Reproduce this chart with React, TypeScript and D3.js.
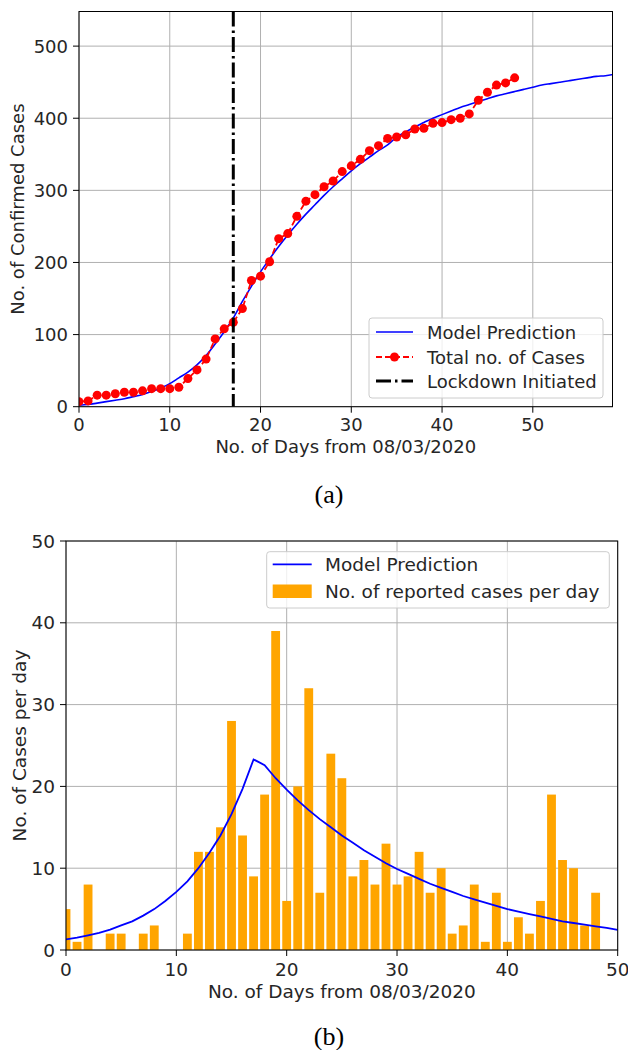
import React from "react";
import * as d3 from "d3";

// ---------- data ----------
const days = d3.range(0, 49);
const totalCases = [7, 8, 16, 16, 18, 20, 20, 22, 25, 25, 25, 27, 39, 51, 66, 94, 108, 117, 136, 175, 181, 201, 233, 240, 264, 285, 294, 305, 313, 326, 334, 343, 355, 362, 372, 374, 377, 385, 386, 393, 394, 398, 400, 406, 425, 436, 446, 449, 456];
const modelDays = d3.range(0, 60);
const modelCumulative = [2, 3, 5, 7, 9, 11, 14, 17, 21, 26, 32, 40, 48, 58, 71, 87, 104, 123, 146, 167, 187, 205, 222, 238, 253, 267, 280, 293, 305, 316, 327, 337, 346, 355, 363, 374, 381, 388, 394, 400, 405, 410, 415, 419, 423, 427, 431, 434, 437, 440, 443, 446, 448, 450, 452, 454, 456, 458, 459, 461];
const lockdownDay = 17;
const dailyCases = [5, 1, 8, 0, 2, 2, 0, 2, 3, 0, 0, 2, 12, 12, 15, 28, 14, 9, 19, 39, 6, 20, 32, 7, 24, 21, 9, 11, 8, 13, 8, 9, 12, 7, 10, 2, 3, 8, 1, 7, 1, 4, 2, 6, 19, 11, 10, 3, 7];
const dailyModelDays = d3.range(0, 51);
const dailyModel = [1.3, 1.5, 1.8, 2.1, 2.5, 3.0, 3.5, 4.2, 5.0, 6.0, 7.1, 8.4, 10.0, 11.9, 14.0, 16.6, 19.7, 23.3, 22.6, 21.0, 19.6, 18.3, 17.1, 16.0, 15.0, 14.0, 13.1, 12.2, 11.4, 10.6, 9.9, 9.3, 8.7, 8.1, 7.6, 7.1, 6.6, 6.2, 5.8, 5.4, 5.0, 4.7, 4.4, 4.1, 3.8, 3.5, 3.3, 3.1, 2.9, 2.7, 2.45];
const topXTicks = [0, 10, 20, 30, 40, 50];
const topYTicks = [0, 100, 200, 300, 400, 500];
const botXTicks = [0, 10, 20, 30, 40, 50];
const botYTicks = [0, 10, 20, 30, 40, 50];

const FONT = "DejaVu Sans, sans-serif";
const FS = 18;
const FSB = 18.5;
const GRID = "#b0b0b0";
const TXT = "#262626";

export default function App() {
  // top chart
  const tL = 79, tR = 612.5, tT = 11.5, tB = 406.7;
  const xT = d3.scaleLinear().domain([0, 58.78]).range([tL, tR]);
  const yT = d3.scaleLinear().domain([0, 548]).range([tB, tT]);
  const modelLine = d3.line<number>().x((d, i) => xT(modelDays[i])).y((d) => yT(d)).curve(d3.curveMonotoneX);
  const casesLine = d3.line<number>().x((d, i) => xT(days[i])).y((d) => yT(d));

  // bottom chart
  const bL = 66, bR = 617.7, bT = 541, bB = 950;
  const xB = d3.scaleLinear().domain([0, 50]).range([bL, bR]);
  const yB = d3.scaleLinear().domain([0, 50]).range([bB, bT]);
  const dailyLine = d3.line<number>().x((d, i) => xB(dailyModelDays[i])).y((d) => yB(d));
  const bw = 0.8;

  return (
    <svg width={628} height={1050} style={{ position: "absolute", left: 0, top: 0 }} fontFamily={FONT}>
      <defs>
        <clipPath id="clipT"><rect x={tL} y={tT} width={tR - tL} height={tB - tT} /></clipPath>
        <clipPath id="clipB"><rect x={bL} y={bT} width={bR - bL} height={bB - bT} /></clipPath>
      </defs>
      <rect x={0} y={0} width={628} height={1050} fill="#fff" />

      {/* ===== TOP CHART ===== */}
      <g>
        {topXTicks.map((t) => (
          <line key={"tgx" + t} x1={xT(t)} x2={xT(t)} y1={tT} y2={tB} stroke={GRID} strokeWidth={1} />
        ))}
        {topYTicks.map((t) => (
          <line key={"tgy" + t} x1={tL} x2={tR} y1={yT(t)} y2={yT(t)} stroke={GRID} strokeWidth={1} />
        ))}
        <g clipPath="url(#clipT)">
          <path d={modelLine(modelCumulative) || ""} fill="none" stroke="#0000ff" strokeWidth={1.6} />
          <path d={casesLine(totalCases) || ""} fill="none" stroke="#ff0000" strokeWidth={1.8} strokeDasharray="6,3" />
          {totalCases.map((v, i) => (
            <circle key={"pt" + i} cx={xT(days[i])} cy={yT(v)} r={4.5} fill="#ff0000" />
          ))}
          <line x1={xT(lockdownDay)} x2={xT(lockdownDay)} y1={tT} y2={tB} stroke="#000" strokeWidth={3} strokeDasharray="15,4,2.5,4" />
        </g>
        <rect x={tL} y={tT} width={tR - tL} height={tB - tT} fill="none" stroke="#000" strokeWidth={1} />
        {topXTicks.map((t) => (
          <g key={"tx" + t}>
            <line x1={xT(t)} x2={xT(t)} y1={tB} y2={tB + 6} stroke="#000" strokeWidth={1} />
            <text x={xT(t)} y={tB + 23.8} textAnchor="middle" fontSize={FS} fill={TXT}>{t}</text>
          </g>
        ))}
        {topYTicks.map((t) => (
          <g key={"ty" + t}>
            <line x1={tL - 6} x2={tL} y1={yT(t)} y2={yT(t)} stroke="#000" strokeWidth={1} />
            <text x={tL - 11} y={yT(t) + 6.5} textAnchor="end" fontSize={FS} fill={TXT}>{t}</text>
          </g>
        ))}
        <text x={(tL + tR) / 2} y={453.3} textAnchor="middle" fontSize={FS} fill={TXT}>No. of Days from 08/03/2020</text>
        <text transform={`translate(24,${(tT + tB) / 2}) rotate(-90)`} textAnchor="middle" fontSize={FS} fill={TXT}>No. of Confirmed Cases</text>
        {/* legend */}
        <rect x={369} y={318} width={234} height={80} rx={3} fill="#fff" fillOpacity={0.8} stroke="#cccccc" strokeWidth={1} />
        <line x1={376} x2={413} y1={332} y2={332} stroke="#0000ff" strokeWidth={1.6} />
        <text x={427} y={338.5} fontSize={FS} fill={TXT}>Model Prediction</text>
        <line x1={376} x2={413} y1={357} y2={357} stroke="#ff0000" strokeWidth={1.8} strokeDasharray="6,3" />
        <circle cx={394.5} cy={357} r={4.5} fill="#ff0000" />
        <text x={427} y={363.5} fontSize={FS} fill={TXT}>Total no. of Cases</text>
        <line x1={376} x2={413} y1={381} y2={381} stroke="#000" strokeWidth={3} strokeDasharray="15,4,2.5,4" />
        <text x={427} y={387.5} fontSize={FS} fill={TXT}>Lockdown Initiated</text>
        <text x={329} y={503} textAnchor="middle" fontSize={26} fontFamily="Liberation Serif, Times New Roman, serif" fill="#000">(a)</text>
      </g>

      {/* ===== BOTTOM CHART ===== */}
      <g>
        {botXTicks.map((t) => (
          <line key={"bgx" + t} x1={xB(t)} x2={xB(t)} y1={bT} y2={bB} stroke={GRID} strokeWidth={1} />
        ))}
        {botYTicks.map((t) => (
          <line key={"bgy" + t} x1={bL} x2={bR} y1={yB(t)} y2={yB(t)} stroke={GRID} strokeWidth={1} />
        ))}
        <g clipPath="url(#clipB)">
          {dailyCases.map((v, i) => (
            v > 0 ? (
              <rect key={"bar" + i} x={xB(i - bw / 2)} y={yB(v)} width={xB(bw) - xB(0)} height={yB(0) - yB(v)} fill="#ffa500" />
            ) : null
          ))}
          <path d={dailyLine(dailyModel) || ""} fill="none" stroke="#0000ff" strokeWidth={1.8} />
        </g>
        <rect x={bL} y={bT} width={bR - bL} height={bB - bT} fill="none" stroke="#000" strokeWidth={1} />
        {botXTicks.map((t) => (
          <g key={"bx" + t}>
            <line x1={xB(t)} x2={xB(t)} y1={bB} y2={bB + 6} stroke="#000" strokeWidth={1} />
            <text x={xB(t)} y={bB + 25.7} textAnchor="middle" fontSize={FSB} fill={TXT}>{t}</text>
          </g>
        ))}
        {botYTicks.map((t) => (
          <g key={"by" + t}>
            <line x1={bL - 6} x2={bL} y1={yB(t)} y2={yB(t)} stroke="#000" strokeWidth={1} />
            <text x={bL - 11} y={yB(t) + 6.6} textAnchor="end" fontSize={FSB} fill={TXT}>{t}</text>
          </g>
        ))}
        <text x={(bL + bR) / 2} y={997.7} textAnchor="middle" fontSize={FSB} fill={TXT}>No. of Days from 08/03/2020</text>
        <text transform={`translate(26,${(bT + bB) / 2}) rotate(-90)`} textAnchor="middle" fontSize={FSB} fill={TXT}>No. of Cases per day</text>
        {/* legend */}
        <rect x={266.7} y={551.7} width={342.6} height={56.3} rx={3} fill="#fff" fillOpacity={0.8} stroke="#cccccc" strokeWidth={1} />
        <line x1={272.7} x2={311.7} y1={564.3} y2={564.3} stroke="#0000ff" strokeWidth={1.8} />
        <text x={325} y={570.9} fontSize={FSB} fill={TXT}>Model Prediction</text>
        <rect x={272.7} y={584.5} width={39} height={13.5} fill="#ffa500" />
        <text x={325} y={598} fontSize={FSB} fill={TXT}>No. of reported cases per day</text>
        <text x={329} y={1045} textAnchor="middle" fontSize={26} fontFamily="Liberation Serif, Times New Roman, serif" fill="#000">(b)</text>
      </g>
    </svg>
  );
}
